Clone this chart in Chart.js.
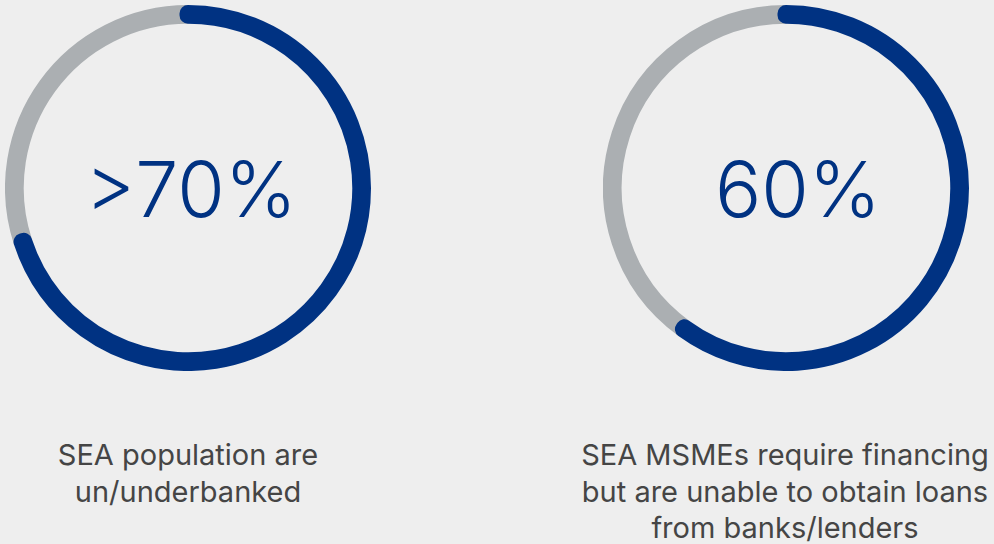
<!DOCTYPE html>
<html>
<head>
<meta charset="utf-8">
<script src="https://cdn.jsdelivr.net/npm/chart.js@4"></script>
<style>
  html, body { margin: 0; padding: 0; background: #eeeeee; }
  #page { position: relative; width: 994px; height: 544px; overflow: hidden; font-family: Inter, "Noto Sans", sans-serif; }
  .ring { position: absolute; top: 5px; width: 366px; height: 366px; }
  .big { position: absolute; top: 151px; width: 366px; text-align: center; font-size: 77px; line-height: 77px; font-weight: 300; color: #003282; }
  .cap { position: absolute; top: 437px; text-align: center; font-size: 29px; line-height: 36.5px; color: #454545; }
</style>
</head>
<body>
<div id="page">
  <div class="ring" style="left:5px"><canvas id="ring1"></canvas></div>
  <div class="ring" style="left:603px"><canvas id="ring2"></canvas></div>
  <div class="big" id="big1" style="left:8px"></div>
  <div class="big" id="big2" style="left:615px"></div>
  <div class="cap" id="cap1" style="left:-26px; width:428px"></div>
  <div class="cap" id="cap2" style="left:571px; width:428px"></div>
</div>
<script>
const values = [70, 60];
const bigLabels = ['>70%', '60%'];
const captions = [
  ['SEA population are', 'un/underbanked'],
  ['SEA MSMEs require financing', 'but are unable to obtain loans', 'from banks/lenders']
];

const blue = '#003282';
const grey = '#abafb2';

function makeRing(id, value) {
  const rest = 100 - value;
  new Chart(document.getElementById(id), {
    type: 'doughnut',
    data: {
      labels: ['other', 'share'],
      datasets: [{
        data: [rest, value],
        backgroundColor: [grey, blue],
        borderColor: [grey, blue],
        borderWidth: 17,
        hoverBorderWidth: 17,
        borderJoinStyle: ['bevel', 'round'],
        borderAlign: 'center',
        hoverOffset: 0,
        offset: 0
      }]
    },
    options: {
      responsive: true,
      maintainAspectRatio: false,
      animation: false,
      events: [],
      cutout: '99%',
      rotation: -rest * 3.6,
      layout: { padding: 0 },
      plugins: {
        legend: { display: false },
        tooltip: { enabled: false }
      }
    }
  });
}

makeRing('ring1', values[0]);
makeRing('ring2', values[1]);

document.getElementById('big1').textContent = bigLabels[0];
document.getElementById('big2').textContent = bigLabels[1];
document.getElementById('cap1').innerHTML = captions[0].join('<br>');
document.getElementById('cap2').innerHTML = captions[1].join('<br>');
</script>
</body>
</html>
